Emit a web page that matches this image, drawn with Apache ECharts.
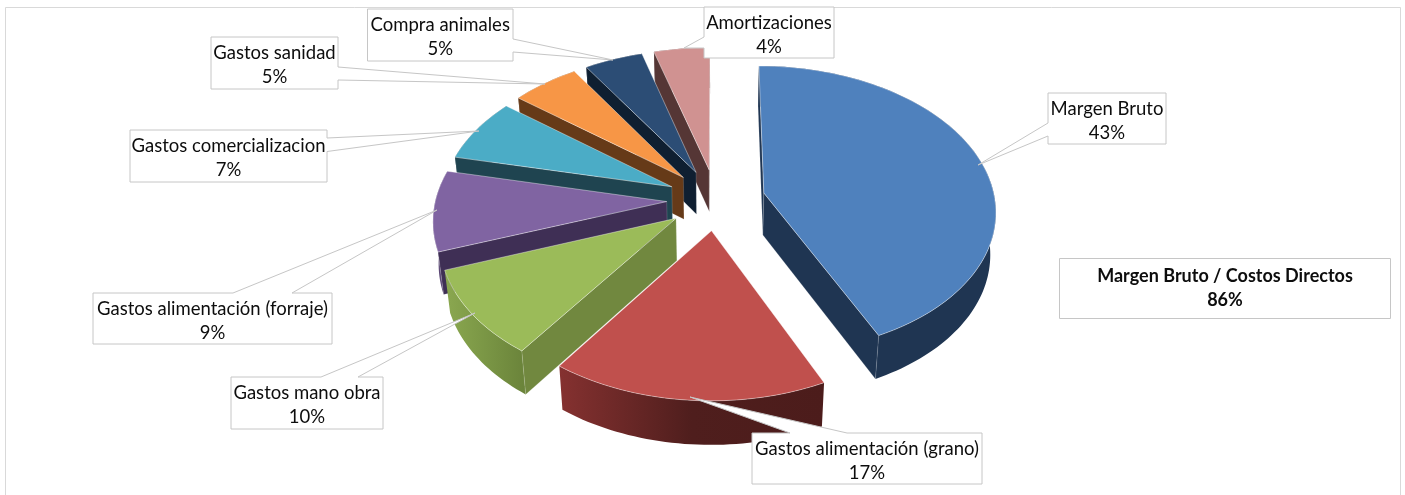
<!DOCTYPE html>
<html><head><meta charset="utf-8"><style>html,body{margin:0;background:#fff}#c{width:1405px;height:495px}</style>
<script src="https://cdn.jsdelivr.net/npm/echarts@6/dist/echarts.min.js"></script></head><body><div id="c"></div>
<script>
// ---------- data ----------
const categories=['Margen Bruto','Gastos alimentación (grano)','Gastos mano obra','Gastos alimentación (forraje)','Gastos comercializacion','Gastos sanidad','Compra animales','Amortizaciones'];
const values=[43.07,16.89,9.69,8.99,7.11,5.37,4.65,4.44];
const noteTitle='Margen Bruto / Costos Directos';
const noteValue='86%';
// ---------- styles ----------
const topColors=['#4F81BD','#C0504D','#9BBB59','#8064A2','#4BACC6','#F79646','#2C4D75','#D09291'];
const wallColors=['#1F3552','#4D1D1C','#71883F','#3F2F55','#1F4450','#663A18','#0F1F31','#553635'];
const rimColors=['#1F3552',['#853130','#4F1E1D','#4C1C1B'],['#8BA850','#7A9645','#6A833A'],'#5C4875','#1F4450','#663A18','#0F1F31','#553635'];
// ---------- projection of the tilted pie ----------
const view={cx:715.95,cy:199.6,R:231.09,Rv:142.94,p:0.1144,explode:0.2134,height:42,shrink:0.98};
function topPoint(X,Y){const s=1/(1-view.p*Y);return [view.cx+view.R*X*s,view.cy+view.Rv*Y*s];}
function bottomPoint(X,Y){const s=1/(1-view.p*Y);const q=topPoint(X,Y);
  return [view.cx+(q[0]-view.cx)*view.shrink,q[1]+view.height*(1+0.3*(s-1))];}
const total=values.reduce((a,b)=>a+b,0);
const slices=[];
values.reduce((start,v,i)=>{const sweep=v/total*2*Math.PI,mid=start+sweep/2;
  slices.push({a0:start,a1:start+sweep,ex:view.explode*Math.sin(mid),ey:-view.explode*Math.cos(mid),i});
  return start+sweep;},0);
function grad(c){return Array.isArray(c)?new echarts.graphic.LinearGradient(0,0,1,0,c.map((col,k)=>({offset:k/(c.length-1),color:col}))):c;}
function wallVisible(A,B,C){const dx=B[0]-A[0],dy=B[1]-A[1];return (dx*(C[1]-A[1])-dy*(C[0]-A[0]))*dx<0;}
function renderSlice(params){
  const s=slices[slices.length-1-params.dataIndex],n=Math.max(8,Math.ceil((s.a1-s.a0)*40));
  const rimT=[],rimB=[];
  for(let k=0;k<=n;k++){const a=s.a0+(s.a1-s.a0)*k/n,X=s.ex+Math.sin(a),Y=s.ey-Math.cos(a);
    rimT.push(topPoint(X,Y));rimB.push(bottomPoint(X,Y));}
  const apexT=topPoint(s.ex,s.ey),apexB=bottomPoint(s.ex,s.ey),midT=rimT[n>>1];
  const edge='rgba(255,255,255,0.22)';
  const poly=(pts,fill,stroke,w)=>({type:'polygon',shape:{points:pts},style:{fill,stroke,lineWidth:w}});
  const kids=[];
  kids.push(poly(rimT.concat(rimB.slice().reverse()),grad(rimColors[s.i]),null,0));
  if(wallVisible(apexT,rimT[0],midT))kids.push(poly([apexT,rimT[0],rimB[0],apexB],wallColors[s.i],edge,0.7));
  if(wallVisible(apexT,rimT[n],midT))kids.push(poly([apexT,rimT[n],rimB[n],apexB],wallColors[s.i],edge,0.7));
  kids.push(poly([apexT].concat(rimT),topColors[s.i],'rgba(255,255,255,0.5)',0.8));
  return {type:'group',children:kids};
}
// ---------- callout layout: box [left, top, right, bottom] and the outline points of its pointer ----------
const callouts=[
 {box:[1048,93,1166,144],tail:[[1048,136],[978,165],[1048,123]],side:'l'},
 {box:[752,433,982,484],tail:[[790,433],[690,397],[847,433]],side:'t'},
 {box:[231,377,383,429],tail:[[321,377],[475,313],[358,377]],side:'t'},
 {box:[93,293,332,344],tail:[[233,293],[437,210],[292,293]],side:'t'},
 {box:[130,130,327,182],tail:[[327,138],[479,131],[327,151.5]],side:'r'},
 {box:[211,37,338,89],tail:[[338,67],[545,84],[338,80]],side:'r'},
 {box:[367.5,9,513,61],tail:[[513,39],[613,60],[513,52]],side:'r'},
 {box:[704,7,834,58],tail:[[704,48],[684,48],[704,37]],side:'l'}
];
const textStyle={fill:'#0d0d0d',font:'18.5px Lato',align:'center',verticalAlign:'middle'};
function renderCallout(params){
  const i=params.dataIndex,c=callouts[i],[l,t,r,b]=c.box,tail=c.tail;
  let pts;
  if(c.side==='t')pts=[[l,t]].concat(tail,[[r,t],[r,b],[l,b]]);
  else if(c.side==='r')pts=[[l,t],[r,t]].concat(tail,[[r,b],[l,b]]);
  else pts=[[l,t],[r,t],[r,b],[l,b]].concat(tail);
  const cx=(l+r)/2;
  return {type:'group',children:[
    {type:'polygon',shape:{points:pts},style:{fill:'#fff',stroke:'#c6c6c6',lineWidth:1}},
    {type:'text',style:{...textStyle,x:cx,y:t+16,text:categories[i]}},
    {type:'text',style:{...textStyle,x:cx,y:t+40,text:Math.round(values[i])+'%'}}
  ]};
}
const ch=echarts.init(document.getElementById('c'));
ch.setOption({
  backgroundColor:'#fff',animation:false,
  graphic:[
    {type:'rect',z:0,silent:true,shape:{x:5.5,y:7.5,width:1395,height:500},style:{fill:'#fff',stroke:'#d9d9d9',lineWidth:1}},
    {type:'rect',z:50,silent:true,shape:{x:1059.5,y:258.5,width:331,height:60},style:{fill:'#fff',stroke:'#c6c6c6',lineWidth:1}},
    {type:'text',z:51,silent:true,style:{x:1225,y:276,text:noteTitle,fill:'#0d0d0d',font:'bold 18px Lato',align:'center',verticalAlign:'middle'}},
    {type:'text',z:51,silent:true,style:{x:1225,y:300,text:noteValue,fill:'#0d0d0d',font:'bold 18px Lato',align:'center',verticalAlign:'middle'}}
  ],
  series:[
    {type:'custom',coordinateSystem:'none',z:2,silent:true,renderItem:renderSlice,
     data:categories.map((n,i)=>({name:n,value:values[i]})).reverse()},
    {type:'custom',coordinateSystem:'none',z:3,silent:true,renderItem:renderCallout,
     data:categories.map((n,i)=>({name:n,value:values[i]}))}
  ]
});
</script></body></html>
